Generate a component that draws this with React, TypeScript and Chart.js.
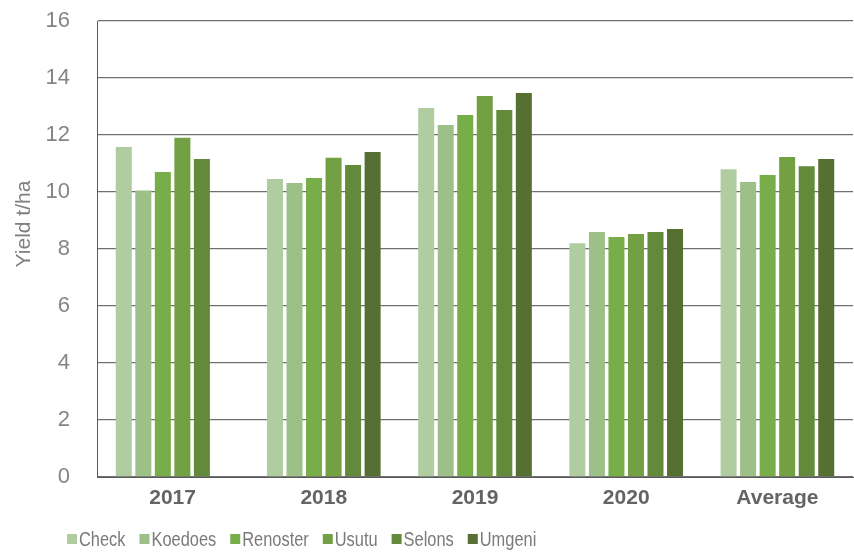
import React, { useEffect, useRef } from "react";
import { Chart, registerables } from "chart.js";

Chart.register(...registerables);

const categories = ["2017", "2018", "2019", "2020", "Average"];
const seriesNames = ["Check", "Koedoes", "Renoster", "Usutu", "Selons", "Umgeni"];
const check = [11.58, 10.46, 12.95, 8.2, 10.8];
const koedoes = [10.05, 10.32, 12.35, 8.6, 10.35];
const renoster = [10.7, 10.49, 12.7, 8.42, 10.6];
const usutu = [11.9, 11.2, 13.37, 8.53, 11.23];
const selons = [11.16, 10.95, 12.88, 8.6, 10.9];
const umgeni = [null, 11.4, 13.47, 8.7, 11.16];
const yTicks = [0, 2, 4, 6, 8, 10, 12, 14, 16];
const yTitle = "Yield t/ha";
const seriesColors = ["#b0cda2", "#9cc088", "#77ae4a", "#72a042", "#628a3a", "#566f32"];

const FONT = "'Liberation Sans', Arial, sans-serif";

export default function App() {
  const ref = useRef<HTMLCanvasElement | null>(null);

  useEffect(() => {
    document.body.style.margin = "0";
    const canvas = ref.current;
    if (!canvas) return;
    const values = [check, koedoes, renoster, usutu, selons, umgeni];

    const extras = {
      id: "extras",
      afterDraw(chart: any) {
        const ctx = chart.ctx;
        // y-axis title
        ctx.save();
        ctx.font = `21px ${FONT}`;
        ctx.fillStyle = "#7f7f7f";
        ctx.textAlign = "center";
        ctx.textBaseline = "middle";
        ctx.translate(24, 224);
        ctx.rotate(-Math.PI / 2);
        ctx.fillText(yTitle, 0, 0);
        ctx.restore();

        // legend
        const sx = 0.82;
        ctx.save();
        ctx.font = `20px ${FONT}`;
        ctx.textBaseline = "middle";
        ctx.textAlign = "left";
        const cy = 539;
        let x = 67;
        chart.data.datasets.forEach((ds: any) => {
          ctx.fillStyle = ds.backgroundColor;
          ctx.fillRect(x, cy - 5, 10, 10);
          ctx.fillStyle = "#7a7a7a";
          const tx = x + 12;
          ctx.save();
          ctx.translate(tx, cy + 1);
          ctx.scale(sx, 1);
          ctx.fillText(ds.label, 0, 0);
          ctx.restore();
          x = tx + ctx.measureText(ds.label).width * sx + 14;
        });
        ctx.restore();
      },
    };

    const chart = new Chart(canvas, {
      type: "bar",
      data: {
        labels: categories,
        datasets: seriesNames.map((name, i) => ({
          label: name,
          data: values[i] as any,
          backgroundColor: seriesColors[i],
          borderWidth: 0,
          categoryPercentage: 0.775,
          barPercentage: 0.82,
        })),
      },
      options: {
        animation: false,
        responsive: false,
        maintainAspectRatio: false,
        layout: { padding: { top: 21, right: 1, left: 0, bottom: 0 } },
        plugins: {
          tooltip: { enabled: false },
          legend: { display: false },
        },
        scales: {
          x: {
            grid: { display: false, drawTicks: false },
            border: { display: true, color: "#5a5a5a", width: 1 },
            ticks: {
              color: "#646464",
              padding: 9,
              font: { family: FONT, size: 21, weight: "bold" },
            },
            afterFit(scale: any) {
              scale.height = 558 - 477;
              scale.paddingLeft = 0;
              scale.paddingRight = 0;
            },
          },
          y: {
            min: 0,
            max: 16,
            afterBuildTicks(scale: any) {
              scale.ticks = yTicks.map((v) => ({ value: v }));
            },
            grid: { color: "#707070", lineWidth: 1.3, drawTicks: false },
            border: { display: true, color: "#5a5a5a", width: 1 },
            ticks: {
              color: "#858585",
              padding: 27,
              font: { family: FONT, size: 22 },
            },
            title: { display: false },
            afterFit(scale: any) {
              scale.width = 97;
              scale.paddingTop = 0;
              scale.paddingBottom = 0;
            },
          },
        },
      },
      plugins: [extras],
    });
    return () => chart.destroy();
  }, []);

  return (
    <div style={{ width: 854, height: 558, background: "#fff" }}>
      <canvas ref={ref} width={854} height={558} style={{ display: "block" }} />
    </div>
  );
}
